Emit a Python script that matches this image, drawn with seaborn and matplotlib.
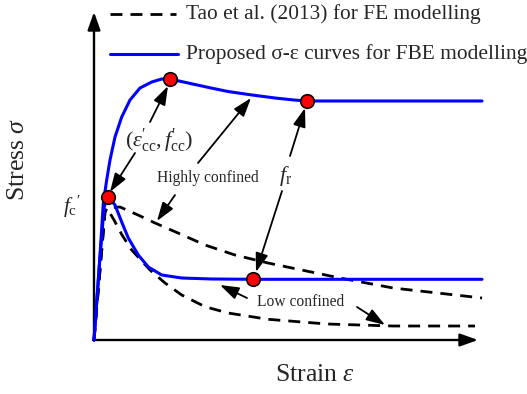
import matplotlib
matplotlib.use("Agg")
import matplotlib.pyplot as plt
import seaborn as sns

# Proposed sigma-epsilon curve, highly confined concrete (strain, stress in schematic units)
high_fbe_strain = [0.00, 0.04, 0.07, 0.093, 0.127, 0.16, 0.21, 0.277, 0.36, 0.46, 0.577, 0.677, 0.76,
                   0.85, 1.01, 1.17, 1.34, 1.58, 1.81, 2.00, 2.13, 3.88]
high_fbe_stress = [0.00, 0.55, 1.00, 1.37, 1.60, 1.80, 2.03, 2.23, 2.40, 2.52, 2.58, 2.61, 2.60,
                   2.59, 2.555, 2.52, 2.485, 2.45, 2.42, 2.40, 2.39, 2.39]

# Proposed sigma-epsilon curve, low confined concrete
low_fbe_strain = [0.00, 0.05, 0.10, 0.125, 0.14, 0.17, 0.21, 0.277, 0.343, 0.443, 0.543, 0.677,
                  0.877, 1.177, 1.593, 3.88]
low_fbe_stress = [0.00, 0.70, 1.32, 1.41, 1.43, 1.40, 1.35, 1.18, 1.02, 0.85, 0.73, 0.65,
                  0.62, 0.61, 0.607, 0.607]

# Tao et al. (2013) curves
high_tao_strain = [0.00, 0.11, 0.127, 0.26, 0.44, 0.61, 0.84, 1.11, 1.41, 1.74, 2.46, 2.99, 3.88]
high_tao_stress = [0.00, 1.28, 1.32, 1.33, 1.25, 1.17, 1.07, 0.95, 0.85, 0.77, 0.62, 0.52, 0.42]

low_tao_strain = [0.00, 0.11, 0.13, 0.20, 0.28, 0.377, 0.56, 0.71, 0.877, 1.11, 1.34, 1.74,
                  2.33, 2.99, 3.81]
low_tao_stress = [0.00, 1.28, 1.32, 1.20, 1.05, 0.90, 0.70, 0.57, 0.45, 0.333, 0.27, 0.207,
                  0.16, 0.14, 0.14]

# Key points: (eps'_cc, f'_cc), f'_c and residual stresses f_r
key_strain = [0.76, 0.14, 2.13, 1.593]
key_stress = [2.61, 1.43, 2.39, 0.607]

legend_labels = ["Tao et al. (2013) for FE modelling",
                 "Proposed σ-ε curves for FBE modelling"]

sns.set_style("white")
plt.rcParams["font.family"] = ["Liberation Serif", "DejaVu Serif"]
plt.rcParams["mathtext.fontset"] = "custom"
plt.rcParams["mathtext.rm"] = "Liberation Serif"
plt.rcParams["mathtext.it"] = "Liberation Serif:italic"
plt.rcParams["mathtext.bf"] = "Liberation Serif:bold"
plt.rcParams["mathtext.fallback"] = "stix"

BLUE = "#0000ff"
DASH = (0, (4.3, 2.9))

fig = plt.figure(figsize=(5.27, 3.94), dpi=100)
ax = fig.add_axes([0, 0, 1, 1])
ax.set_xlim(-0.94, 4.33)
ax.set_ylim(-0.54, 3.40)
ax.axis("off")

# Axes with arrow heads
axis_arrow = dict(arrowstyle="-|>,head_length=0.9,head_width=0.32", color="black",
                  lw=1.7, mutation_scale=12, shrinkA=0, shrinkB=0)
ax.annotate("", xy=(0, 3.28), xytext=(0, -0.005), arrowprops=axis_arrow)
ax.annotate("", xy=(3.84, 0), xytext=(-0.01, 0), arrowprops=axis_arrow)

# Curves
for xs, ys in [(high_tao_strain, high_tao_stress), (low_tao_strain, low_tao_stress)]:
    sns.lineplot(x=xs, y=ys, ax=ax, sort=False, estimator=None, color="black",
                 linewidth=2.0, linestyle=DASH, zorder=2)
for xs, ys in [(high_fbe_strain, high_fbe_stress), (low_fbe_strain, low_fbe_stress)]:
    sns.lineplot(x=xs, y=ys, ax=ax, sort=False, estimator=None, color=BLUE,
                 linewidth=2.2, zorder=3)

sns.scatterplot(x=key_strain, y=key_stress, ax=ax, s=95, color="red",
                edgecolor="black", linewidth=1.2, zorder=5)

# Legend entries
ax.plot([0.16, 0.82], [3.26, 3.26], color="black", lw=2.0, linestyle=DASH)
ax.plot([0.16, 0.84], [2.86, 2.86], color=BLUE, lw=2.2)
ax.text(0.92, 3.26, legend_labels[0], fontsize=15.4, va="center", ha="left")
ax.text(0.92, 2.86, legend_labels[1], fontsize=15.4, va="center", ha="left")

# Axis titles
ax.text(2.21, -0.35, r"Strain $\varepsilon$", fontsize=18.5, ha="center", va="center")
ax.text(-0.76, 1.81, r"Stress $\sigma$", fontsize=18.5, ha="center", va="center", rotation=90)
ax.text(-0.22, 1.33, r"$f_{\mathrm{c}}{}^{\prime}$", fontsize=15.5, ha="center", va="center")

# Annotations
ax.text(0.65, 1.99, r"$(\varepsilon^{\prime}_{\mathrm{cc}}, f^{\prime}_{\mathrm{cc}})$",
        fontsize=16, ha="center", va="center")
ax.text(1.14, 1.62, "Highly confined", fontsize=11.2, ha="center", va="center")
ax.text(1.92, 1.64, r"$f_{\mathrm{r}}$", fontsize=16, ha="center", va="center")
ax.text(2.07, 0.38, "Low confined", fontsize=11.2, ha="center", va="center")

pointer = dict(arrowstyle="-|>,head_length=0.95,head_width=0.32", color="black",
               lw=1.3, mutation_scale=12, shrinkA=0, shrinkB=0)
arrows = [((0.56, 2.18), (0.74, 2.54)),
          ((0.41, 1.87), (0.16, 1.48)),
          ((1.04, 1.77), (1.57, 2.42)),
          ((0.81, 1.45), (0.63, 1.19)),
          ((1.96, 1.84), (2.11, 2.32)),
          ((1.88, 1.49), (1.62, 0.68)),
          ((1.53, 0.42), (1.26, 0.55)),
          ((2.63, 0.33), (2.91, 0.15))]
for tail, head in arrows:
    ax.annotate("", xy=head, xytext=tail, arrowprops=pointer)

fig.savefig("out.png", dpi=100)
